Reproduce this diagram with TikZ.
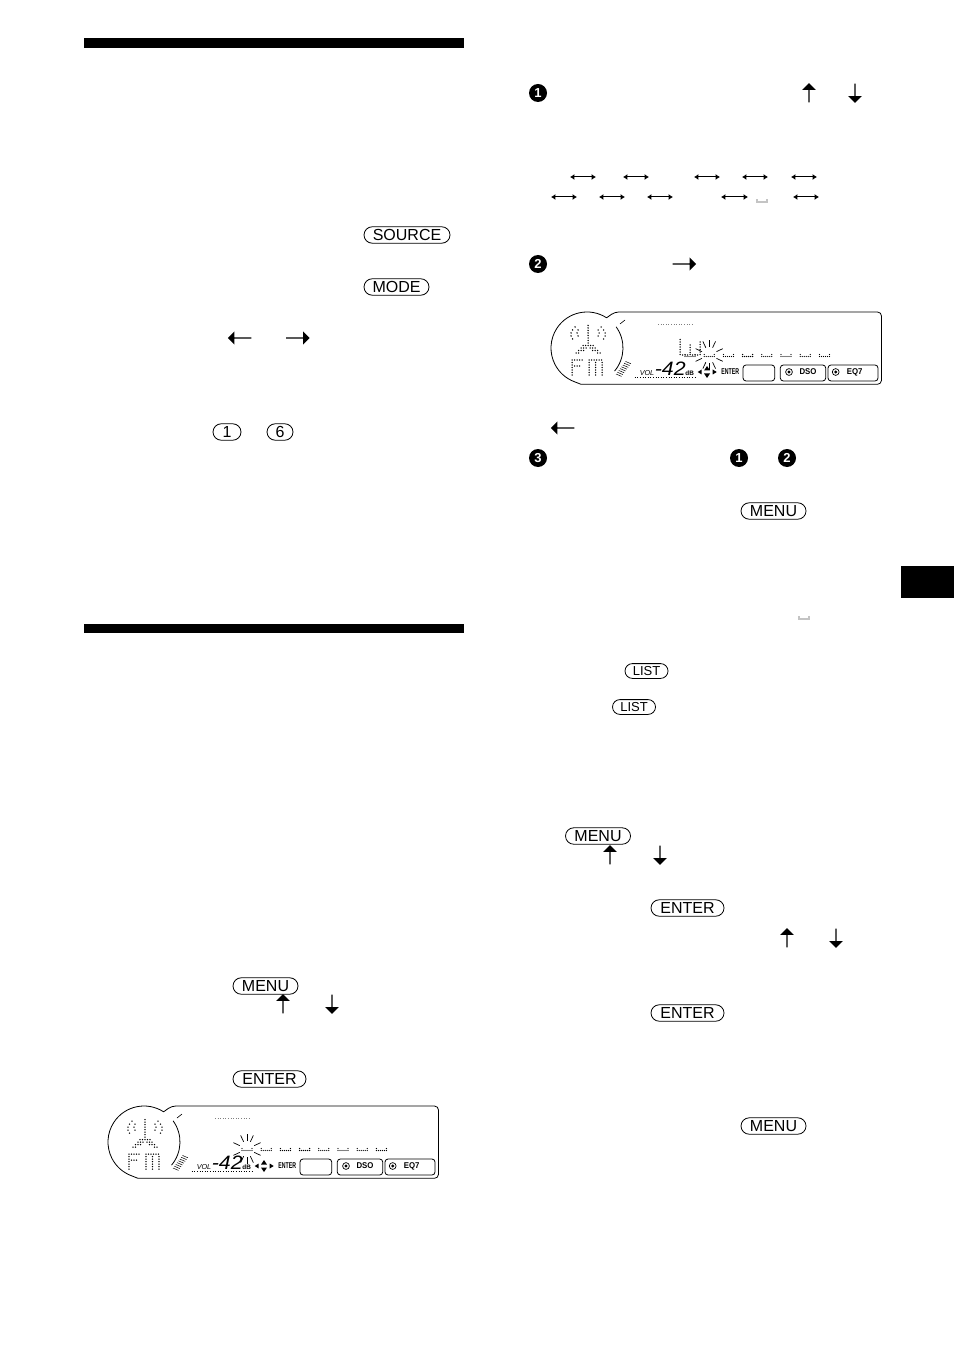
\documentclass[tikz,border=0pt]{standalone}
\usepackage{fontspec}
\setmainfont{Liberation Sans}
\usetikzlibrary{shapes.misc,shapes.arrows,positioning,calc,arrows.meta}

\tikzset{
    keybtn/.style={draw, rounded rectangle, line width=0.4pt, inner sep=0pt, minimum height=8.2pt, font=\fontsize{8}{8}\selectfont},
    smallkey/.style={keybtn, minimum height=7.4pt, font=\fontsize{6.5}{7}\selectfont},
    stepnum/.style={circle, fill=black, text=white, inner sep=0pt, minimum size=9pt, font=\fontsize{6.5}{7}\selectfont\bfseries},
    arrowup/.style={single arrow, fill=black, inner sep=0pt, minimum width=6.8pt, minimum height=9.6pt, single arrow head extend=1.9pt, shape border rotate=90},
    arrowdown/.style={arrowup, shape border rotate=270},
    arrowleft/.style={arrowup, minimum height=11.8pt, minimum width=6.6pt, shape border rotate=180},
    arrowright/.style={arrowup, minimum height=11.8pt, minimum width=6.6pt, shape border rotate=0},
    dblarrow/.style={line width=0.5pt, {Latex[length=2.2pt,width=3pt]}-{Latex[length=2.2pt,width=3pt]}},
    lcdline/.style={line width=0.4pt},
    lcdtext/.style={inner sep=0pt, font=\fontsize{4.2}{5}\selectfont\bfseries},
    dotchar/.pic={
        \foreach \dx/\dy in {-5/0,-5/-2,-3/0,-1/0,1/0,3/0,5/0,5/-2}
            \fill (\dx,\dy) circle[radius=0.33pt];
    },
    burst/.pic={
        \foreach \ang in {25,65,90,115,155,205,245,270,295,335}
            \draw[line width=0.35pt] (\ang:4pt) -- (\ang:7.5pt);
    },
    lcd/.pic={
        % outline
        \draw[lcdline] (55.6,5.8) arc[start angle=57, end angle=250, radius=18pt]
            -- (30,72.3) [rounded corners=2pt] -- (330.5,72.3) -- (330.5,0) -- (63.7,0) -- (55.6,5.8);
        \draw[lcdline] (65.1,14.8) arc[start angle=36, end angle=-40, radius=18pt];
        \draw[line width=0.3pt] (69,12) -- (74,8);
        % hatched corner
        \foreach \i in {0,...,7}
            \draw[line width=0.25pt] ({65+\i*1.35},{62-\i*1.8}) -- ++(5.5,2.4);
        % speaker
        \foreach \py in {13.5,16,18.5,21,23.5,26,28.5,31}
            \fill (37,\py) circle[radius=0.38pt];
        \foreach \px/\py in {32/33.5,34.5/33.5,37/33.5,39.5/33.5,42/33.5,
            30/36,32.5/36,35/36,39/36,41.5/36,44/36,
            27.5/38.5,30/38.5,32.5/38.5,41.5/38.5,44/38.5,46.5/38.5,
            25/41,27.5/41,46.5/41,49/41,
            24/15,21.5/18,20/21,20/24,21.5/27,27/18,26/21,27/24,
            50/15,52.5/18,54/21,54/24,52.5/27,47/18,48/21,47/24}
            \fill (\px,\py) circle[radius=0.38pt];
        % FM
        \foreach \px in {21,23.5,26,28.5,31}
            \fill (\px,48) circle[radius=0.38pt];
        \foreach \py in {50.5,53,55.5,58,60.5,63}
            \fill (21,\py) circle[radius=0.38pt];
        \foreach \px in {23.5,26,28.5}
            \fill (\px,54) circle[radius=0.38pt];
        \foreach \px in {38,40.5,43,45.5,48,50.5}
            \fill (\px,48) circle[radius=0.38pt];
        \foreach \px in {38,44.5,51}
            \foreach \py in {50.5,53,55.5,58,60.5,63}
                \fill (\px,\py) circle[radius=0.38pt];
        % gray dashes
        \draw[gray, line width=0.3pt, densely dotted] (107,12.3) -- (141,12.3);
        % text row
        \foreach \i in {0,...,7}
            \pic at ({139+\i*19.2},44.5) {dotchar};
        \pic at ({139+#1*19.2},43) {burst};
        \node[lcdtext, font=\fontsize{3.6}{4}\selectfont\itshape] (vol) at (96,61) {VOL};
        \node[lcdtext, font=\fontsize{9.7}{10}\selectfont\itshape, xscale=1.1] (level) at (119.3,57) {-42};
        \node[lcdtext, font=\fontsize{3.2}{4}\selectfont\bfseries] (db) at (138.7,61) {dB};
        \draw[line width=0.3pt, densely dotted] (83.7,65) -- (143.7,65);
        % joystick
        \fill (146.7,60) -- (150.7,57.5) -- (150.7,62.5) -- cycle;
        \fill (165.7,60) -- (161.7,57.5) -- (161.7,62.5) -- cycle;
        \fill (156,54) -- (153,58.5) -- (159,58.5) -- cycle;
        \fill (156,66) -- (153,61.5) -- (159,61.5) -- cycle;
        \node[lcdtext, xscale=0.62] (enter) at (179.3,60) {ENTER};
        % buttons
        \draw[lcdline, rounded corners=1.5pt] (192,53) rectangle (223.7,69);
        \draw[lcdline, rounded corners=1.5pt] (229.3,53) rectangle (274.7,69);
        \draw[lcdline, rounded corners=1.5pt] (277,53) rectangle (327,69);
        \draw[line width=0.35pt] (238,60) circle[radius=1.7pt];
        \fill (238,60) circle[radius=0.8pt];
        \draw[line width=0.35pt] (284.7,60) circle[radius=1.7pt];
        \fill (284.7,60) circle[radius=0.8pt];
        \node[lcdtext, xscale=0.93] (dso) at (257,60) {DSO};
        \node[lcdtext, xscale=0.93] (eqseven) at (303.7,60) {EQ7};
    }
}

\begin{document}
\begin{tikzpicture}[x=0.5pt, y=-0.5pt]
    \useasboundingbox (0,0) rectangle (954,1352);

    % Heading bars and tab
    \fill (84,38) rectangle (464,48);
    \fill (84,624) rectangle (464,633);
    \fill (901,566) rectangle (954,598);

    % Left column keys
    \node[keybtn, minimum width=43pt] (source) at (407,235) {SOURCE};
    \node[keybtn, minimum width=32.5pt] (mode) at (396.5,287) {MODE};
    \node[arrowleft] (seekl) at (240,338) {};
    \node[arrowright] (seekr) at (297.5,338) {};
    \node[keybtn, minimum width=14pt] (one) at (227,432) {1};
    \node[keybtn, minimum width=13pt] (six) at (280,432) {6};

    \node[keybtn, minimum width=32.5pt] (menua) at (265.5,986) {MENU};
    \node[arrowup] (upa) at (283,1004) {};
    \node[arrowdown] (downa) at (332,1004) {};
    \node[keybtn, minimum width=36.5pt] (entera) at (269.5,1079) {ENTER};
    \pic (panela) at (108,1106) {lcd=0};

    % Step 1
    \node[stepnum] (numa) at (538,93) {1};
    \node[arrowup] (upb) at (809,93) {};
    \node[arrowdown] (downb) at (855,93) {};
    \foreach \xa/\xb in {570/596,623/649,694/720,742/768,791/817} {
        \coordinate (pa\xa) at (\xa,177);
        \coordinate (pb\xa) at (\xb,177);
        \draw[dblarrow] (pa\xa) -- (pb\xa);
    }
    \foreach \xa/\xb in {551/577,599/625,647/673,721/748,793/819} {
        \coordinate (qa\xa) at (\xa,197);
        \coordinate (qb\xa) at (\xb,197);
        \draw[dblarrow] (qa\xa) -- (qb\xa);
    }
    \pic at (762,202) {dotchar};

    % Step 2
    \node[stepnum] (numb) at (538,264) {2};
    \node[arrowright] (rightb) at (684,264) {};
    \pic (panelb) at (551,312) {lcd=1};
    \foreach \py in {27.5,30,32.5,35,37.5,40,42.5}
        \fill (680,{312+\py}) circle[radius=0.38pt];
    \foreach \py in {33,35.5,38,40.5,42.5}
        \fill (690,{312+\py}) circle[radius=0.38pt];
    \foreach \py in {30,32.5,35,37.5,40,42.5}
        \fill (700,{312+\py}) circle[radius=0.38pt];
    \foreach \px in {682.5,685,687.5,692.5,695,697.5}
        \fill (\px,355) circle[radius=0.38pt];

    \node[arrowleft] (leftb) at (563,428) {};

    % Step 3
    \node[stepnum] (numc) at (538,458) {3};
    \node[stepnum] (refa) at (739,458) {1};
    \node[stepnum] (refb) at (787,458) {2};
    \node[keybtn, minimum width=32.5pt] (menub) at (773.5,511) {MENU};

    \pic at (804,619) {dotchar};
    \node[smallkey, minimum width=21.5pt] (lista) at (646.5,671) {LIST};
    \node[smallkey, minimum width=21.5pt] (listb) at (634,707) {LIST};

    \node[keybtn, minimum width=32.5pt] (menuc) at (598,836) {MENU};
    \node[arrowup] (upc) at (610,855) {};
    \node[arrowdown] (downc) at (660,855) {};
    \node[keybtn, minimum width=36.5pt] (enterb) at (687.5,908) {ENTER};
    \node[arrowup] (upd) at (787,938) {};
    \node[arrowdown] (downd) at (836,938) {};
    \node[keybtn, minimum width=36.5pt] (enterc) at (687.5,1013) {ENTER};
    \node[keybtn, minimum width=32.5pt] (menud) at (773.5,1126) {MENU};
\end{tikzpicture}
\end{document}
